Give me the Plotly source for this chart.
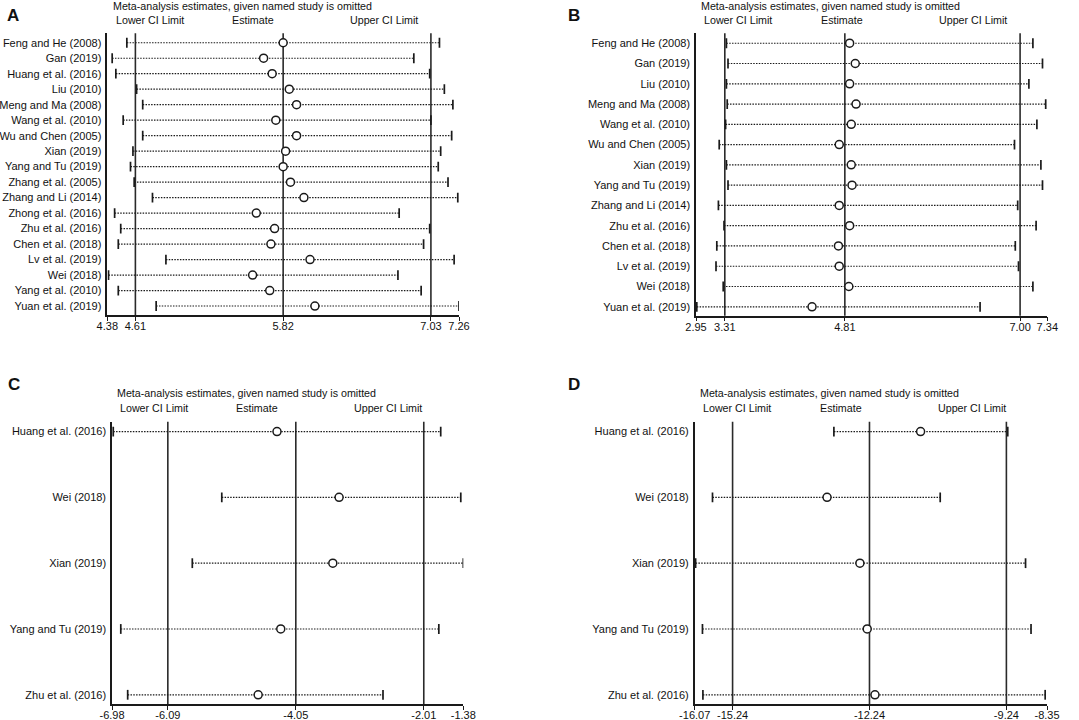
import plotly.graph_objects as go

W, H = 1079, 720

# ---- panel A ----
a_studies = ["Feng and He (2008)", "Gan (2019)", "Huang et al. (2016)", "Liu (2010)",
             "Meng and Ma (2008)", "Wang et al. (2010)", "Wu and Chen (2005)", "Xian (2019)",
             "Yang and Tu (2019)", "Zhang et al. (2005)", "Zhang and Li (2014)",
             "Zhong et al. (2016)", "Zhu et al. (2016)", "Chen et al. (2018)", "Lv et al. (2019)",
             "Wei (2018)", "Yang et al. (2010)", "Yuan et al. (2019)"]
a_lower = [4.54, 4.42, 4.45, 4.62, 4.67, 4.51, 4.67, 4.59, 4.57, 4.60, 4.75,
           4.44, 4.49, 4.47, 4.86, 4.39, 4.47, 4.78]
a_est = [5.82, 5.66, 5.73, 5.87, 5.93, 5.76, 5.93, 5.84, 5.82, 5.88, 5.99,
         5.60, 5.75, 5.72, 6.04, 5.57, 5.71, 6.08]
a_upper = [7.10, 6.89, 7.02, 7.14, 7.21, 7.03, 7.20, 7.11, 7.09, 7.17, 7.25,
           6.77, 7.02, 6.97, 7.22, 6.76, 6.95, 7.26]
a_ticks = [4.38, 4.61, 5.82, 7.03, 7.26]
a_refs = [4.61, 5.82, 7.03]

# ---- panel B ----
b_studies = ["Feng and He (2008)", "Gan (2019)", "Liu (2010)", "Meng and Ma (2008)",
             "Wang et al. (2010)", "Wu and Chen (2005)", "Xian (2019)", "Yang and Tu (2019)",
             "Zhang and Li (2014)", "Zhu et al. (2016)", "Chen et al. (2018)",
             "Lv et al. (2019)", "Wei (2018)", "Yuan et al. (2019)"]
b_lower = [3.33, 3.35, 3.33, 3.34, 3.32, 3.24, 3.33, 3.35, 3.23, 3.30, 3.21, 3.20, 3.29, 2.96]
b_est = [4.87, 4.94, 4.87, 4.95, 4.89, 4.74, 4.89, 4.90, 4.74, 4.87, 4.73, 4.74, 4.86, 4.40]
b_upper = [7.16, 7.28, 7.11, 7.32, 7.21, 6.93, 7.26, 7.28, 6.97, 7.20, 6.94, 6.98, 7.16, 6.50]
b_ticks = [2.95, 3.31, 4.81, 7.00, 7.34]
b_refs = [3.31, 4.81, 7.00]

# ---- panel C ----
c_studies = ["Huang et al. (2016)", "Wei (2018)", "Xian (2019)", "Yang and Tu (2019)",
             "Zhu et al. (2016)"]
c_lower = [-6.96, -5.23, -5.70, -6.84, -6.73]
c_est = [-4.35, -3.36, -3.46, -4.29, -4.65]
c_upper = [-1.74, -1.42, -1.38, -1.77, -2.66]
c_ticks = [-6.98, -6.09, -4.05, -2.01, -1.38]
c_refs = [-6.09, -4.05, -2.01]

# ---- panel D ----
d_studies = ["Huang et al. (2016)", "Wei (2018)", "Xian (2019)", "Yang and Tu (2019)",
             "Zhu et al. (2016)"]
d_lower = [-13.02, -15.68, -16.05, -15.90, -15.89]
d_est = [-11.12, -13.17, -12.45, -12.29, -12.12]
d_upper = [-9.21, -10.69, -8.82, -8.70, -8.39]
d_ticks = [-16.07, -15.24, -12.24, -9.24, -8.35]
d_refs = [-15.24, -12.24, -9.24]

INK = "#1a1a1a"
FONT = "Arial, Liberation Sans, sans-serif"

fig = go.Figure()


def px(x):
    return x / W


def py(y):
    return 1 - y / H


def add_panel(n, studies, lower, est, upper, ticks, refs, xdom, ydom, yrange):
    xa = "x" if n == 1 else f"x{n}"
    ya = "y" if n == 1 else f"y{n}"
    # dotted CI lines
    lx, ly = [], []
    for s, lo, hi in zip(studies, lower, upper):
        lx += [lo, hi, None]
        ly += [s, s, None]
    fig.add_trace(go.Scatter(x=lx, y=ly, mode="lines", xaxis=xa, yaxis=ya,
                             line=dict(color=INK, width=1.2, dash="1.5px,1.3px"),
                             hoverinfo="skip", showlegend=False))
    # end caps
    fig.add_trace(go.Scatter(x=lower + upper, y=studies + studies, mode="markers",
                             xaxis=xa, yaxis=ya, showlegend=False, hoverinfo="skip",
                             marker=dict(symbol="line-ns", size=7,
                                         line=dict(color=INK, width=1.7))))
    # estimates
    fig.add_trace(go.Scatter(x=est, y=studies, mode="markers", xaxis=xa, yaxis=ya,
                             showlegend=False,
                             marker=dict(symbol="circle", size=8, color="white",
                                         line=dict(color=INK, width=1.5))))
    for r in refs:
        fig.add_shape(type="line", xref=xa, yref=f"{ya} domain", x0=r, x1=r, y0=0, y1=1,
                      line=dict(color="#2a2a2a", width=1.6), layer="below")
    fig.layout["xaxis" if n == 1 else f"xaxis{n}"] = dict(
        domain=[px(xdom[0]), px(xdom[1])], anchor=ya, range=[ticks[0], ticks[-1]],
        tickvals=ticks, ticktext=[f"{t:.2f}" for t in ticks], showgrid=False,
        zeroline=False, showline=True, linecolor=INK, linewidth=1.5, automargin=False,
        ticks="outside", ticklen=4, tickwidth=1.2, tickcolor=INK, ticklabelstandoff=-4,
        tickfont=dict(size=11, color="#111", family=FONT))
    fig.layout["yaxis" if n == 1 else f"yaxis{n}"] = dict(
        domain=[py(ydom[1]), py(ydom[0])], anchor=xa, type="category",
        categoryorder="array", categoryarray=studies, range=yrange, automargin=False,
        showgrid=False, zeroline=False, showline=True, linecolor=INK, linewidth=1.5,
        ticks="outside", ticklen=2, tickcolor="rgba(0,0,0,0)",
        tickfont=dict(size=11, color="#111", family=FONT))


add_panel(1, a_studies, a_lower, a_est, a_upper, a_ticks, a_refs,
          (107.3, 459), (33.3, 315), [17.58, -0.61])
add_panel(2, b_studies, b_lower, b_est, b_upper, b_ticks, b_refs,
          (696, 1047.3), (33.3, 315.7), [13.44, -0.49])
add_panel(3, c_studies, c_lower, c_est, c_upper, c_ticks, c_refs,
          (112, 463.3), (421.7, 704), [4.14, -0.15])
add_panel(4, d_studies, d_lower, d_est, d_upper, d_ticks, d_refs,
          (694.7, 1047), (421.7, 704), [4.14, -0.15])

# headers: (letter x, letter y, title x, title y, header y, lower cx, est cx, upper cx)
headers = [
    ("A", 13, 15, 111, 6, 20, 149.5, 253.3, 383.5),
    ("B", 573.5, 15, 699.3, 6, 20, 737.8, 841.8, 972.8),
    ("C", 14, 384, 115.3, 393.3, 408.3, 154, 257.3, 388.2),
    ("D", 573.5, 384, 698, 393.3, 408.3, 736.8, 841, 971.8),
]
for letter, lx, lyy, tx, ty, hy, c1, c2, c3 in headers:
    fig.add_annotation(x=px(lx), y=py(lyy), xref="paper", yref="paper", text=f"<b>{letter}</b>",
                       showarrow=False, xanchor="center", yanchor="middle",
                       font=dict(size=17, color="#111", family=FONT))
    fig.add_annotation(x=px(tx), y=py(ty), xref="paper", yref="paper",
                       text="Meta-analysis estimates, given named study is omitted",
                       showarrow=False, xanchor="left", yanchor="middle",
                       font=dict(size=10.7, color="#111", family=FONT))
    for cx, lab in zip((c1, c2, c3), ("Lower CI Limit", "Estimate", "Upper CI Limit")):
        fig.add_annotation(x=px(cx), y=py(hy), xref="paper", yref="paper", text=lab,
                           showarrow=False, xanchor="center", yanchor="middle",
                           font=dict(size=10.7, color="#111", family=FONT))

fig.update_layout(width=W, height=H, margin=dict(l=0, r=0, t=0, b=0),
                  paper_bgcolor="white", plot_bgcolor="white",
                  font=dict(family=FONT, color="#111"))

# drop the default page margin so the figure sits at the window's top-left corner
fig.write_html("out.html", config={"displayModeBar": False},
               post_script="document.body.style.margin='0';document.body.style.overflow='hidden';")
